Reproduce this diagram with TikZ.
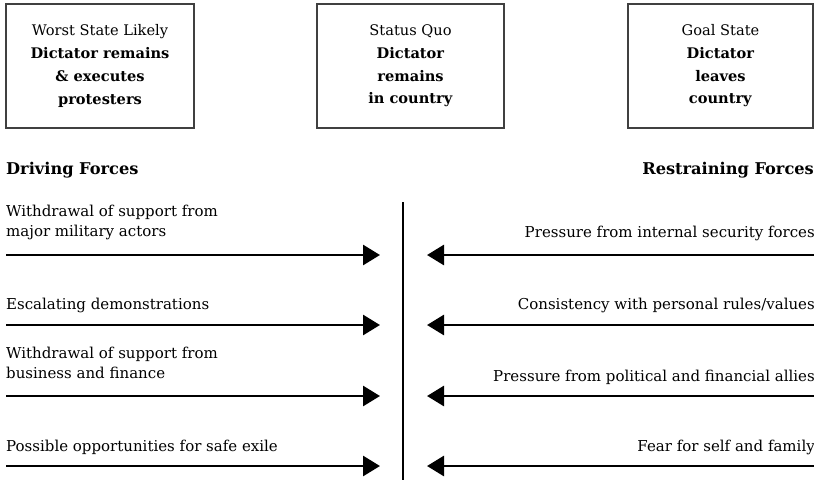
\documentclass[tikz,border=0pt]{standalone}
\usepackage{fontspec}
\setmainfont{DejaVu Serif}
\usetikzlibrary{arrows.meta}
\begin{document}
\begin{tikzpicture}[x=1pt,y=-1pt,
  statebox/.style={draw=black!75,line width=1.2pt,inner sep=0pt,
    minimum height=124pt,align=center,
    font=\fontsize{14.6}{22.7}\selectfont},
  label/.style={inner sep=0pt,align=left,font=\fontsize{15}{20}\selectfont},
  rlabel/.style={label,align=right},
  heading/.style={inner sep=0pt,font=\fontsize{16.2}{18}\selectfont\bfseries},
  force/.style={line width=2.8pt,-{Triangle[length=17pt,width=20pt]}},
  divider/.style={line width=2.5pt}]
\useasboundingbox (0,0) rectangle (814,480);
\clip (0,0) rectangle (814,480);

% state boxes
\node[statebox,minimum width=188pt] (worst) at (100,66)
  {Worst State Likely\\\textbf{Dictator remains}\\\textbf{\& executes}\\\textbf{protesters}};
\node[statebox,minimum width=187pt] (quo) at (410.5,66)
  {Status Quo\\\textbf{Dictator}\\\textbf{remains}\\\textbf{in country}};
\node[statebox,minimum width=185pt] (goal) at (720.5,66)
  {Goal State\\\textbf{Dictator}\\\textbf{leaves}\\\textbf{country}};

% headings
\node[heading,anchor=west] (drv) at (6,170) {Driving Forces};
\node[heading,anchor=east] (rst) at (814,170) {Restraining Forces};

% central divider
\coordinate (divtop) at (403,202);
\coordinate (divbot) at (403,480);
\draw[divider] (divtop) -- (divbot);

% driving forces
\node[label,anchor=west] (d1) at (6,222) {Withdrawal of support from\\major military actors};
\node[label,anchor=west] (d2) at (6,305) {Escalating demonstrations};
\node[label,anchor=west] (d3) at (6,363) {Withdrawal of support from\\business and finance};
\node[label,anchor=west] (d4) at (6,447) {Possible opportunities for safe exile};

\foreach \i/\y in {1/255,2/325,3/396,4/466}{
  \coordinate (ds\i) at (6,\y);
  \coordinate (de\i) at (380,\y);
  \draw[force] (ds\i) -- (de\i);
}

% restraining forces
\node[rlabel,anchor=east] (r1) at (815,233) {Pressure from internal security forces};
\node[rlabel,anchor=east] (r2) at (815,305) {Consistency with personal rules/values};
\node[rlabel,anchor=east] (r3) at (815,377) {Pressure from political and financial allies};
\node[rlabel,anchor=east] (r4) at (815,447) {Fear for self and family};

\foreach \i/\y in {1/255,2/325,3/396,4/466}{
  \coordinate (rs\i) at (814,\y);
  \coordinate (re\i) at (427,\y);
  \draw[force] (rs\i) -- (re\i);
}
\end{tikzpicture}
\end{document}
